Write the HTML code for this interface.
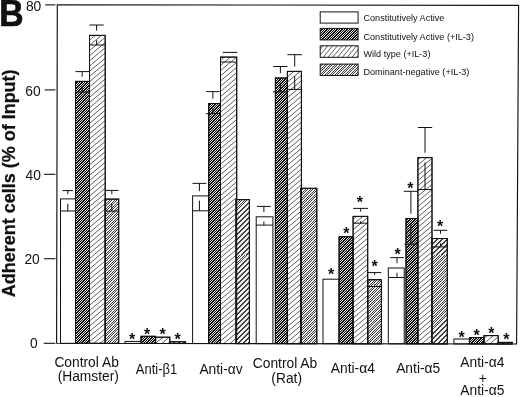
<!DOCTYPE html>
<html><head><meta charset="utf-8"><title>Figure B</title>
<style>
html,body{margin:0;padding:0;background:#fff;}
body{width:520px;height:397px;overflow:hidden;}
svg{display:block;will-change:transform;}
text{font-family:"Liberation Sans",Arial,Helvetica,sans-serif;fill:#111;}
.t{font-size:13.8px;}
.lg{font-size:9.1px;}
.st{font-size:16px;font-weight:bold;}
</style></head><body>
<svg width="520" height="397" viewBox="0 0 520 397">
<defs>
<clipPath id="l2"><rect x="320.2" y="28.4" width="37.9" height="11.5"/></clipPath><clipPath id="c2"><rect x="75.5" y="81.4" width="14.0" height="261.9"/><rect x="141.0" y="336.3" width="14.6" height="7.1"/><rect x="208.7" y="103.5" width="11.8" height="240.0"/><rect x="275.4" y="78.0" width="12.0" height="265.6"/><rect x="339.1" y="236.7" width="14.0" height="107.0"/><rect x="406.0" y="218.5" width="11.9" height="125.3"/><rect x="469.6" y="337.5" width="14.4" height="6.4"/></clipPath><clipPath id="l3"><rect x="320.2" y="45.8" width="37.9" height="11.5"/></clipPath><clipPath id="c3"><rect x="89.5" y="35.4" width="15.7" height="307.9"/><rect x="155.6" y="337.2" width="14.2" height="6.3"/><rect x="220.5" y="57.1" width="16.2" height="286.4"/><rect x="287.4" y="71.4" width="14.0" height="272.3"/><rect x="353.1" y="216.4" width="14.6" height="127.4"/><rect x="417.9" y="157.6" width="14.1" height="186.2"/><rect x="484.0" y="335.6" width="14.2" height="8.3"/></clipPath><clipPath id="l4"><rect x="320.2" y="64.1" width="37.9" height="11.4"/></clipPath><clipPath id="c4"><rect x="105.2" y="199.1" width="13.5" height="144.3"/><rect x="169.8" y="341.8" width="15.8" height="1.7"/><rect x="235.9" y="199.6" width="13.5" height="144.0"/><rect x="300.8" y="188.3" width="16.0" height="155.4"/><rect x="367.8" y="279.7" width="13.6" height="64.1"/><rect x="432.0" y="238.5" width="15.3" height="105.4"/><rect x="498.2" y="342.4" width="14.0" height="1.6"/></clipPath>
</defs>
<rect width="520" height="397" fill="#fff"/>

<rect x="60.5" y="198.9" width="15.0" height="144.4" fill="#fff" stroke="#111" stroke-width="1"/>
<rect x="75.5" y="81.4" width="14.0" height="261.9" fill="#e6e6e6" stroke="#111" stroke-width="1"/>
<rect x="89.5" y="35.4" width="15.7" height="307.9" fill="#fff" stroke="#111" stroke-width="1"/>
<rect x="105.2" y="199.1" width="13.5" height="144.3" fill="#f0f0f0" stroke="#111" stroke-width="1"/>
<rect x="125.0" y="341.4" width="16.0" height="2.0" fill="#fff" stroke="#111" stroke-width="1"/>
<rect x="141.0" y="336.3" width="14.6" height="7.1" fill="#e6e6e6" stroke="#111" stroke-width="1"/>
<rect x="155.6" y="337.2" width="14.2" height="6.3" fill="#fff" stroke="#111" stroke-width="1"/>
<rect x="169.8" y="341.8" width="15.8" height="1.7" fill="#f0f0f0" stroke="#111" stroke-width="1"/>
<rect x="192.6" y="195.9" width="16.1" height="147.6" fill="#fff" stroke="#111" stroke-width="1"/>
<rect x="208.7" y="103.5" width="11.8" height="240.0" fill="#e6e6e6" stroke="#111" stroke-width="1"/>
<rect x="220.5" y="57.1" width="16.2" height="286.4" fill="#fff" stroke="#111" stroke-width="1"/>
<rect x="235.9" y="199.6" width="13.5" height="144.0" fill="#f0f0f0" stroke="#111" stroke-width="1"/>
<rect x="256.2" y="216.8" width="16.7" height="126.8" fill="#fff" stroke="#111" stroke-width="1"/>
<rect x="275.4" y="78.0" width="12.0" height="265.6" fill="#e6e6e6" stroke="#111" stroke-width="1"/>
<rect x="287.4" y="71.4" width="14.0" height="272.3" fill="#fff" stroke="#111" stroke-width="1"/>
<rect x="300.8" y="188.3" width="16.0" height="155.4" fill="#f0f0f0" stroke="#111" stroke-width="1"/>
<rect x="323.0" y="279.2" width="16.1" height="64.5" fill="#fff" stroke="#111" stroke-width="1"/>
<rect x="339.1" y="236.7" width="14.0" height="107.0" fill="#e6e6e6" stroke="#111" stroke-width="1"/>
<rect x="353.1" y="216.4" width="14.6" height="127.4" fill="#fff" stroke="#111" stroke-width="1"/>
<rect x="367.8" y="279.7" width="13.6" height="64.1" fill="#f0f0f0" stroke="#111" stroke-width="1"/>
<rect x="388.3" y="268.0" width="15.9" height="75.8" fill="#fff" stroke="#111" stroke-width="1"/>
<rect x="406.0" y="218.5" width="11.9" height="125.3" fill="#e6e6e6" stroke="#111" stroke-width="1"/>
<rect x="417.9" y="157.6" width="14.1" height="186.2" fill="#fff" stroke="#111" stroke-width="1"/>
<rect x="432.0" y="238.5" width="15.3" height="105.4" fill="#f0f0f0" stroke="#111" stroke-width="1"/>
<rect x="453.9" y="339.0" width="15.4" height="4.9" fill="#fff" stroke="#111" stroke-width="1"/>
<rect x="469.6" y="337.5" width="14.4" height="6.4" fill="#e6e6e6" stroke="#111" stroke-width="1"/>
<rect x="484.0" y="335.6" width="14.2" height="8.3" fill="#fff" stroke="#111" stroke-width="1"/>
<rect x="498.2" y="342.4" width="14.0" height="1.6" fill="#f0f0f0" stroke="#111" stroke-width="1"/>
<rect x="320.2" y="28.4" width="37.9" height="11.5" fill="#e6e6e6"/>
<path clip-path="url(#l2)" d="M319 27.40l40 -40.0M319 29.90l40 -40.0M319 32.40l40 -40.0M319 34.90l40 -40.0M319 37.40l40 -40.0M319 39.90l40 -40.0M319 42.40l40 -40.0M319 44.90l40 -40.0M319 47.40l40 -40.0M319 49.90l40 -40.0M319 52.40l40 -40.0M319 54.90l40 -40.0M319 57.40l40 -40.0M319 59.90l40 -40.0M319 62.40l40 -40.0M319 64.90l40 -40.0M319 67.40l40 -40.0M319 69.90l40 -40.0M319 72.40l40 -40.0M319 74.90l40 -40.0M319 77.40l40 -40.0" stroke="#0c0c0c" stroke-width="1.2" fill="none" shape-rendering="crispEdges"/>
<path clip-path="url(#c2)" d="M57 5.00l463 -463.0M57 7.50l463 -463.0M57 10.00l463 -463.0M57 12.50l463 -463.0M57 15.00l463 -463.0M57 17.50l463 -463.0M57 20.00l463 -463.0M57 22.50l463 -463.0M57 25.00l463 -463.0M57 27.50l463 -463.0M57 30.00l463 -463.0M57 32.50l463 -463.0M57 35.00l463 -463.0M57 37.50l463 -463.0M57 40.00l463 -463.0M57 42.50l463 -463.0M57 45.00l463 -463.0M57 47.50l463 -463.0M57 50.00l463 -463.0M57 52.50l463 -463.0M57 55.00l463 -463.0M57 57.50l463 -463.0M57 60.00l463 -463.0M57 62.50l463 -463.0M57 65.00l463 -463.0M57 67.50l463 -463.0M57 70.00l463 -463.0M57 72.50l463 -463.0M57 75.00l463 -463.0M57 77.50l463 -463.0M57 80.00l463 -463.0M57 82.50l463 -463.0M57 85.00l463 -463.0M57 87.50l463 -463.0M57 90.00l463 -463.0M57 92.50l463 -463.0M57 95.00l463 -463.0M57 97.50l463 -463.0M57 100.00l463 -463.0M57 102.50l463 -463.0M57 105.00l463 -463.0M57 107.50l463 -463.0M57 110.00l463 -463.0M57 112.50l463 -463.0M57 115.00l463 -463.0M57 117.50l463 -463.0M57 120.00l463 -463.0M57 122.50l463 -463.0M57 125.00l463 -463.0M57 127.50l463 -463.0M57 130.00l463 -463.0M57 132.50l463 -463.0M57 135.00l463 -463.0M57 137.50l463 -463.0M57 140.00l463 -463.0M57 142.50l463 -463.0M57 145.00l463 -463.0M57 147.50l463 -463.0M57 150.00l463 -463.0M57 152.50l463 -463.0M57 155.00l463 -463.0M57 157.50l463 -463.0M57 160.00l463 -463.0M57 162.50l463 -463.0M57 165.00l463 -463.0M57 167.50l463 -463.0M57 170.00l463 -463.0M57 172.50l463 -463.0M57 175.00l463 -463.0M57 177.50l463 -463.0M57 180.00l463 -463.0M57 182.50l463 -463.0M57 185.00l463 -463.0M57 187.50l463 -463.0M57 190.00l463 -463.0M57 192.50l463 -463.0M57 195.00l463 -463.0M57 197.50l463 -463.0M57 200.00l463 -463.0M57 202.50l463 -463.0M57 205.00l463 -463.0M57 207.50l463 -463.0M57 210.00l463 -463.0M57 212.50l463 -463.0M57 215.00l463 -463.0M57 217.50l463 -463.0M57 220.00l463 -463.0M57 222.50l463 -463.0M57 225.00l463 -463.0M57 227.50l463 -463.0M57 230.00l463 -463.0M57 232.50l463 -463.0M57 235.00l463 -463.0M57 237.50l463 -463.0M57 240.00l463 -463.0M57 242.50l463 -463.0M57 245.00l463 -463.0M57 247.50l463 -463.0M57 250.00l463 -463.0M57 252.50l463 -463.0M57 255.00l463 -463.0M57 257.50l463 -463.0M57 260.00l463 -463.0M57 262.50l463 -463.0M57 265.00l463 -463.0M57 267.50l463 -463.0M57 270.00l463 -463.0M57 272.50l463 -463.0M57 275.00l463 -463.0M57 277.50l463 -463.0M57 280.00l463 -463.0M57 282.50l463 -463.0M57 285.00l463 -463.0M57 287.50l463 -463.0M57 290.00l463 -463.0M57 292.50l463 -463.0M57 295.00l463 -463.0M57 297.50l463 -463.0M57 300.00l463 -463.0M57 302.50l463 -463.0M57 305.00l463 -463.0M57 307.50l463 -463.0M57 310.00l463 -463.0M57 312.50l463 -463.0M57 315.00l463 -463.0M57 317.50l463 -463.0M57 320.00l463 -463.0M57 322.50l463 -463.0M57 325.00l463 -463.0M57 327.50l463 -463.0M57 330.00l463 -463.0M57 332.50l463 -463.0M57 335.00l463 -463.0M57 337.50l463 -463.0M57 340.00l463 -463.0M57 342.50l463 -463.0M57 345.00l463 -463.0M57 347.50l463 -463.0M57 350.00l463 -463.0M57 352.50l463 -463.0M57 355.00l463 -463.0M57 357.50l463 -463.0M57 360.00l463 -463.0M57 362.50l463 -463.0M57 365.00l463 -463.0M57 367.50l463 -463.0M57 370.00l463 -463.0M57 372.50l463 -463.0M57 375.00l463 -463.0M57 377.50l463 -463.0M57 380.00l463 -463.0M57 382.50l463 -463.0M57 385.00l463 -463.0M57 387.50l463 -463.0M57 390.00l463 -463.0M57 392.50l463 -463.0M57 395.00l463 -463.0M57 397.50l463 -463.0M57 400.00l463 -463.0M57 402.50l463 -463.0M57 405.00l463 -463.0M57 407.50l463 -463.0M57 410.00l463 -463.0M57 412.50l463 -463.0M57 415.00l463 -463.0M57 417.50l463 -463.0M57 420.00l463 -463.0M57 422.50l463 -463.0M57 425.00l463 -463.0M57 427.50l463 -463.0M57 430.00l463 -463.0M57 432.50l463 -463.0M57 435.00l463 -463.0M57 437.50l463 -463.0M57 440.00l463 -463.0M57 442.50l463 -463.0M57 445.00l463 -463.0M57 447.50l463 -463.0M57 450.00l463 -463.0M57 452.50l463 -463.0M57 455.00l463 -463.0M57 457.50l463 -463.0M57 460.00l463 -463.0M57 462.50l463 -463.0M57 465.00l463 -463.0M57 467.50l463 -463.0M57 470.00l463 -463.0M57 472.50l463 -463.0M57 475.00l463 -463.0M57 477.50l463 -463.0M57 480.00l463 -463.0M57 482.50l463 -463.0M57 485.00l463 -463.0M57 487.50l463 -463.0M57 490.00l463 -463.0M57 492.50l463 -463.0M57 495.00l463 -463.0M57 497.50l463 -463.0M57 500.00l463 -463.0M57 502.50l463 -463.0M57 505.00l463 -463.0M57 507.50l463 -463.0M57 510.00l463 -463.0M57 512.50l463 -463.0M57 515.00l463 -463.0M57 517.50l463 -463.0M57 520.00l463 -463.0M57 522.50l463 -463.0M57 525.00l463 -463.0M57 527.50l463 -463.0M57 530.00l463 -463.0M57 532.50l463 -463.0M57 535.00l463 -463.0M57 537.50l463 -463.0M57 540.00l463 -463.0M57 542.50l463 -463.0M57 545.00l463 -463.0M57 547.50l463 -463.0M57 550.00l463 -463.0M57 552.50l463 -463.0M57 555.00l463 -463.0M57 557.50l463 -463.0M57 560.00l463 -463.0M57 562.50l463 -463.0M57 565.00l463 -463.0M57 567.50l463 -463.0M57 570.00l463 -463.0M57 572.50l463 -463.0M57 575.00l463 -463.0M57 577.50l463 -463.0M57 580.00l463 -463.0M57 582.50l463 -463.0M57 585.00l463 -463.0M57 587.50l463 -463.0M57 590.00l463 -463.0M57 592.50l463 -463.0M57 595.00l463 -463.0M57 597.50l463 -463.0M57 600.00l463 -463.0M57 602.50l463 -463.0M57 605.00l463 -463.0M57 607.50l463 -463.0M57 610.00l463 -463.0M57 612.50l463 -463.0M57 615.00l463 -463.0M57 617.50l463 -463.0M57 620.00l463 -463.0M57 622.50l463 -463.0M57 625.00l463 -463.0M57 627.50l463 -463.0M57 630.00l463 -463.0M57 632.50l463 -463.0M57 635.00l463 -463.0M57 637.50l463 -463.0M57 640.00l463 -463.0M57 642.50l463 -463.0M57 645.00l463 -463.0M57 647.50l463 -463.0M57 650.00l463 -463.0M57 652.50l463 -463.0M57 655.00l463 -463.0M57 657.50l463 -463.0M57 660.00l463 -463.0M57 662.50l463 -463.0M57 665.00l463 -463.0M57 667.50l463 -463.0M57 670.00l463 -463.0M57 672.50l463 -463.0M57 675.00l463 -463.0M57 677.50l463 -463.0M57 680.00l463 -463.0M57 682.50l463 -463.0M57 685.00l463 -463.0M57 687.50l463 -463.0M57 690.00l463 -463.0M57 692.50l463 -463.0M57 695.00l463 -463.0M57 697.50l463 -463.0M57 700.00l463 -463.0M57 702.50l463 -463.0M57 705.00l463 -463.0M57 707.50l463 -463.0M57 710.00l463 -463.0M57 712.50l463 -463.0M57 715.00l463 -463.0M57 717.50l463 -463.0M57 720.00l463 -463.0M57 722.50l463 -463.0M57 725.00l463 -463.0M57 727.50l463 -463.0M57 730.00l463 -463.0M57 732.50l463 -463.0M57 735.00l463 -463.0M57 737.50l463 -463.0M57 740.00l463 -463.0M57 742.50l463 -463.0M57 745.00l463 -463.0M57 747.50l463 -463.0M57 750.00l463 -463.0M57 752.50l463 -463.0M57 755.00l463 -463.0M57 757.50l463 -463.0M57 760.00l463 -463.0M57 762.50l463 -463.0M57 765.00l463 -463.0M57 767.50l463 -463.0M57 770.00l463 -463.0M57 772.50l463 -463.0M57 775.00l463 -463.0M57 777.50l463 -463.0M57 780.00l463 -463.0M57 782.50l463 -463.0M57 785.00l463 -463.0M57 787.50l463 -463.0M57 790.00l463 -463.0M57 792.50l463 -463.0M57 795.00l463 -463.0M57 797.50l463 -463.0M57 800.00l463 -463.0M57 802.50l463 -463.0M57 805.00l463 -463.0" stroke="#0c0c0c" stroke-width="1.2" fill="none" shape-rendering="crispEdges"/>
<path clip-path="url(#l3)" d="M319 44.80l40 -48.7M319 50.65l40 -48.7M319 56.50l40 -48.7M319 62.35l40 -48.7M319 68.20l40 -48.7M319 74.05l40 -48.7M319 79.90l40 -48.7M319 85.75l40 -48.7M319 91.60l40 -48.7M319 97.45l40 -48.7M319 103.30l40 -48.7" stroke="#2a2a2a" stroke-width="0.75" fill="none"/>
<path clip-path="url(#c3)" d="M57 5.00l463 -388.5M57 10.20l463 -388.5M57 15.40l463 -388.5M57 20.60l463 -388.5M57 25.80l463 -388.5M57 31.00l463 -388.5M57 36.20l463 -388.5M57 41.40l463 -388.5M57 46.60l463 -388.5M57 51.80l463 -388.5M57 57.00l463 -388.5M57 62.20l463 -388.5M57 67.40l463 -388.5M57 72.60l463 -388.5M57 77.80l463 -388.5M57 83.00l463 -388.5M57 88.20l463 -388.5M57 93.40l463 -388.5M57 98.60l463 -388.5M57 103.80l463 -388.5M57 109.00l463 -388.5M57 114.20l463 -388.5M57 119.40l463 -388.5M57 124.60l463 -388.5M57 129.80l463 -388.5M57 135.00l463 -388.5M57 140.20l463 -388.5M57 145.40l463 -388.5M57 150.60l463 -388.5M57 155.80l463 -388.5M57 161.00l463 -388.5M57 166.20l463 -388.5M57 171.40l463 -388.5M57 176.60l463 -388.5M57 181.80l463 -388.5M57 187.00l463 -388.5M57 192.20l463 -388.5M57 197.40l463 -388.5M57 202.60l463 -388.5M57 207.80l463 -388.5M57 213.00l463 -388.5M57 218.20l463 -388.5M57 223.40l463 -388.5M57 228.60l463 -388.5M57 233.80l463 -388.5M57 239.00l463 -388.5M57 244.20l463 -388.5M57 249.40l463 -388.5M57 254.60l463 -388.5M57 259.80l463 -388.5M57 265.00l463 -388.5M57 270.20l463 -388.5M57 275.40l463 -388.5M57 280.60l463 -388.5M57 285.80l463 -388.5M57 291.00l463 -388.5M57 296.20l463 -388.5M57 301.40l463 -388.5M57 306.60l463 -388.5M57 311.80l463 -388.5M57 317.00l463 -388.5M57 322.20l463 -388.5M57 327.40l463 -388.5M57 332.60l463 -388.5M57 337.80l463 -388.5M57 343.00l463 -388.5M57 348.20l463 -388.5M57 353.40l463 -388.5M57 358.60l463 -388.5M57 363.80l463 -388.5M57 369.00l463 -388.5M57 374.20l463 -388.5M57 379.40l463 -388.5M57 384.60l463 -388.5M57 389.80l463 -388.5M57 395.00l463 -388.5M57 400.20l463 -388.5M57 405.40l463 -388.5M57 410.60l463 -388.5M57 415.80l463 -388.5M57 421.00l463 -388.5M57 426.20l463 -388.5M57 431.40l463 -388.5M57 436.60l463 -388.5M57 441.80l463 -388.5M57 447.00l463 -388.5M57 452.20l463 -388.5M57 457.40l463 -388.5M57 462.60l463 -388.5M57 467.80l463 -388.5M57 473.00l463 -388.5M57 478.20l463 -388.5M57 483.40l463 -388.5M57 488.60l463 -388.5M57 493.80l463 -388.5M57 499.00l463 -388.5M57 504.20l463 -388.5M57 509.40l463 -388.5M57 514.60l463 -388.5M57 519.80l463 -388.5M57 525.00l463 -388.5M57 530.20l463 -388.5M57 535.40l463 -388.5M57 540.60l463 -388.5M57 545.80l463 -388.5M57 551.00l463 -388.5M57 556.20l463 -388.5M57 561.40l463 -388.5M57 566.60l463 -388.5M57 571.80l463 -388.5M57 577.00l463 -388.5M57 582.20l463 -388.5M57 587.40l463 -388.5M57 592.60l463 -388.5M57 597.80l463 -388.5M57 603.00l463 -388.5M57 608.20l463 -388.5M57 613.40l463 -388.5M57 618.60l463 -388.5M57 623.80l463 -388.5M57 629.00l463 -388.5M57 634.20l463 -388.5M57 639.40l463 -388.5M57 644.60l463 -388.5M57 649.80l463 -388.5M57 655.00l463 -388.5M57 660.20l463 -388.5M57 665.40l463 -388.5M57 670.60l463 -388.5M57 675.80l463 -388.5M57 681.00l463 -388.5M57 686.20l463 -388.5M57 691.40l463 -388.5M57 696.60l463 -388.5M57 701.80l463 -388.5M57 707.00l463 -388.5M57 712.20l463 -388.5M57 717.40l463 -388.5M57 722.60l463 -388.5M57 727.80l463 -388.5" stroke="#2a2a2a" stroke-width="0.75" fill="none"/>
<rect x="320.2" y="64.1" width="37.9" height="11.4" fill="#f0f0f0"/>
<path clip-path="url(#l4)" d="M319 63.10l40 -40.0M319 65.60l40 -40.0M319 68.10l40 -40.0M319 70.60l40 -40.0M319 73.10l40 -40.0M319 75.60l40 -40.0M319 78.10l40 -40.0M319 80.60l40 -40.0M319 83.10l40 -40.0M319 85.60l40 -40.0M319 88.10l40 -40.0M319 90.60l40 -40.0M319 93.10l40 -40.0M319 95.60l40 -40.0M319 98.10l40 -40.0M319 100.60l40 -40.0M319 103.10l40 -40.0M319 105.60l40 -40.0M319 108.10l40 -40.0M319 110.60l40 -40.0M319 113.10l40 -40.0" stroke="#111" stroke-width="0.8" fill="none" shape-rendering="crispEdges"/>
<path clip-path="url(#c4)" d="M57 5.00l463 -463.0M57 7.50l463 -463.0M57 10.00l463 -463.0M57 12.50l463 -463.0M57 15.00l463 -463.0M57 17.50l463 -463.0M57 20.00l463 -463.0M57 22.50l463 -463.0M57 25.00l463 -463.0M57 27.50l463 -463.0M57 30.00l463 -463.0M57 32.50l463 -463.0M57 35.00l463 -463.0M57 37.50l463 -463.0M57 40.00l463 -463.0M57 42.50l463 -463.0M57 45.00l463 -463.0M57 47.50l463 -463.0M57 50.00l463 -463.0M57 52.50l463 -463.0M57 55.00l463 -463.0M57 57.50l463 -463.0M57 60.00l463 -463.0M57 62.50l463 -463.0M57 65.00l463 -463.0M57 67.50l463 -463.0M57 70.00l463 -463.0M57 72.50l463 -463.0M57 75.00l463 -463.0M57 77.50l463 -463.0M57 80.00l463 -463.0M57 82.50l463 -463.0M57 85.00l463 -463.0M57 87.50l463 -463.0M57 90.00l463 -463.0M57 92.50l463 -463.0M57 95.00l463 -463.0M57 97.50l463 -463.0M57 100.00l463 -463.0M57 102.50l463 -463.0M57 105.00l463 -463.0M57 107.50l463 -463.0M57 110.00l463 -463.0M57 112.50l463 -463.0M57 115.00l463 -463.0M57 117.50l463 -463.0M57 120.00l463 -463.0M57 122.50l463 -463.0M57 125.00l463 -463.0M57 127.50l463 -463.0M57 130.00l463 -463.0M57 132.50l463 -463.0M57 135.00l463 -463.0M57 137.50l463 -463.0M57 140.00l463 -463.0M57 142.50l463 -463.0M57 145.00l463 -463.0M57 147.50l463 -463.0M57 150.00l463 -463.0M57 152.50l463 -463.0M57 155.00l463 -463.0M57 157.50l463 -463.0M57 160.00l463 -463.0M57 162.50l463 -463.0M57 165.00l463 -463.0M57 167.50l463 -463.0M57 170.00l463 -463.0M57 172.50l463 -463.0M57 175.00l463 -463.0M57 177.50l463 -463.0M57 180.00l463 -463.0M57 182.50l463 -463.0M57 185.00l463 -463.0M57 187.50l463 -463.0M57 190.00l463 -463.0M57 192.50l463 -463.0M57 195.00l463 -463.0M57 197.50l463 -463.0M57 200.00l463 -463.0M57 202.50l463 -463.0M57 205.00l463 -463.0M57 207.50l463 -463.0M57 210.00l463 -463.0M57 212.50l463 -463.0M57 215.00l463 -463.0M57 217.50l463 -463.0M57 220.00l463 -463.0M57 222.50l463 -463.0M57 225.00l463 -463.0M57 227.50l463 -463.0M57 230.00l463 -463.0M57 232.50l463 -463.0M57 235.00l463 -463.0M57 237.50l463 -463.0M57 240.00l463 -463.0M57 242.50l463 -463.0M57 245.00l463 -463.0M57 247.50l463 -463.0M57 250.00l463 -463.0M57 252.50l463 -463.0M57 255.00l463 -463.0M57 257.50l463 -463.0M57 260.00l463 -463.0M57 262.50l463 -463.0M57 265.00l463 -463.0M57 267.50l463 -463.0M57 270.00l463 -463.0M57 272.50l463 -463.0M57 275.00l463 -463.0M57 277.50l463 -463.0M57 280.00l463 -463.0M57 282.50l463 -463.0M57 285.00l463 -463.0M57 287.50l463 -463.0M57 290.00l463 -463.0M57 292.50l463 -463.0M57 295.00l463 -463.0M57 297.50l463 -463.0M57 300.00l463 -463.0M57 302.50l463 -463.0M57 305.00l463 -463.0M57 307.50l463 -463.0M57 310.00l463 -463.0M57 312.50l463 -463.0M57 315.00l463 -463.0M57 317.50l463 -463.0M57 320.00l463 -463.0M57 322.50l463 -463.0M57 325.00l463 -463.0M57 327.50l463 -463.0M57 330.00l463 -463.0M57 332.50l463 -463.0M57 335.00l463 -463.0M57 337.50l463 -463.0M57 340.00l463 -463.0M57 342.50l463 -463.0M57 345.00l463 -463.0M57 347.50l463 -463.0M57 350.00l463 -463.0M57 352.50l463 -463.0M57 355.00l463 -463.0M57 357.50l463 -463.0M57 360.00l463 -463.0M57 362.50l463 -463.0M57 365.00l463 -463.0M57 367.50l463 -463.0M57 370.00l463 -463.0M57 372.50l463 -463.0M57 375.00l463 -463.0M57 377.50l463 -463.0M57 380.00l463 -463.0M57 382.50l463 -463.0M57 385.00l463 -463.0M57 387.50l463 -463.0M57 390.00l463 -463.0M57 392.50l463 -463.0M57 395.00l463 -463.0M57 397.50l463 -463.0M57 400.00l463 -463.0M57 402.50l463 -463.0M57 405.00l463 -463.0M57 407.50l463 -463.0M57 410.00l463 -463.0M57 412.50l463 -463.0M57 415.00l463 -463.0M57 417.50l463 -463.0M57 420.00l463 -463.0M57 422.50l463 -463.0M57 425.00l463 -463.0M57 427.50l463 -463.0M57 430.00l463 -463.0M57 432.50l463 -463.0M57 435.00l463 -463.0M57 437.50l463 -463.0M57 440.00l463 -463.0M57 442.50l463 -463.0M57 445.00l463 -463.0M57 447.50l463 -463.0M57 450.00l463 -463.0M57 452.50l463 -463.0M57 455.00l463 -463.0M57 457.50l463 -463.0M57 460.00l463 -463.0M57 462.50l463 -463.0M57 465.00l463 -463.0M57 467.50l463 -463.0M57 470.00l463 -463.0M57 472.50l463 -463.0M57 475.00l463 -463.0M57 477.50l463 -463.0M57 480.00l463 -463.0M57 482.50l463 -463.0M57 485.00l463 -463.0M57 487.50l463 -463.0M57 490.00l463 -463.0M57 492.50l463 -463.0M57 495.00l463 -463.0M57 497.50l463 -463.0M57 500.00l463 -463.0M57 502.50l463 -463.0M57 505.00l463 -463.0M57 507.50l463 -463.0M57 510.00l463 -463.0M57 512.50l463 -463.0M57 515.00l463 -463.0M57 517.50l463 -463.0M57 520.00l463 -463.0M57 522.50l463 -463.0M57 525.00l463 -463.0M57 527.50l463 -463.0M57 530.00l463 -463.0M57 532.50l463 -463.0M57 535.00l463 -463.0M57 537.50l463 -463.0M57 540.00l463 -463.0M57 542.50l463 -463.0M57 545.00l463 -463.0M57 547.50l463 -463.0M57 550.00l463 -463.0M57 552.50l463 -463.0M57 555.00l463 -463.0M57 557.50l463 -463.0M57 560.00l463 -463.0M57 562.50l463 -463.0M57 565.00l463 -463.0M57 567.50l463 -463.0M57 570.00l463 -463.0M57 572.50l463 -463.0M57 575.00l463 -463.0M57 577.50l463 -463.0M57 580.00l463 -463.0M57 582.50l463 -463.0M57 585.00l463 -463.0M57 587.50l463 -463.0M57 590.00l463 -463.0M57 592.50l463 -463.0M57 595.00l463 -463.0M57 597.50l463 -463.0M57 600.00l463 -463.0M57 602.50l463 -463.0M57 605.00l463 -463.0M57 607.50l463 -463.0M57 610.00l463 -463.0M57 612.50l463 -463.0M57 615.00l463 -463.0M57 617.50l463 -463.0M57 620.00l463 -463.0M57 622.50l463 -463.0M57 625.00l463 -463.0M57 627.50l463 -463.0M57 630.00l463 -463.0M57 632.50l463 -463.0M57 635.00l463 -463.0M57 637.50l463 -463.0M57 640.00l463 -463.0M57 642.50l463 -463.0M57 645.00l463 -463.0M57 647.50l463 -463.0M57 650.00l463 -463.0M57 652.50l463 -463.0M57 655.00l463 -463.0M57 657.50l463 -463.0M57 660.00l463 -463.0M57 662.50l463 -463.0M57 665.00l463 -463.0M57 667.50l463 -463.0M57 670.00l463 -463.0M57 672.50l463 -463.0M57 675.00l463 -463.0M57 677.50l463 -463.0M57 680.00l463 -463.0M57 682.50l463 -463.0M57 685.00l463 -463.0M57 687.50l463 -463.0M57 690.00l463 -463.0M57 692.50l463 -463.0M57 695.00l463 -463.0M57 697.50l463 -463.0M57 700.00l463 -463.0M57 702.50l463 -463.0M57 705.00l463 -463.0M57 707.50l463 -463.0M57 710.00l463 -463.0M57 712.50l463 -463.0M57 715.00l463 -463.0M57 717.50l463 -463.0M57 720.00l463 -463.0M57 722.50l463 -463.0M57 725.00l463 -463.0M57 727.50l463 -463.0M57 730.00l463 -463.0M57 732.50l463 -463.0M57 735.00l463 -463.0M57 737.50l463 -463.0M57 740.00l463 -463.0M57 742.50l463 -463.0M57 745.00l463 -463.0M57 747.50l463 -463.0M57 750.00l463 -463.0M57 752.50l463 -463.0M57 755.00l463 -463.0M57 757.50l463 -463.0M57 760.00l463 -463.0M57 762.50l463 -463.0M57 765.00l463 -463.0M57 767.50l463 -463.0M57 770.00l463 -463.0M57 772.50l463 -463.0M57 775.00l463 -463.0M57 777.50l463 -463.0M57 780.00l463 -463.0M57 782.50l463 -463.0M57 785.00l463 -463.0M57 787.50l463 -463.0M57 790.00l463 -463.0M57 792.50l463 -463.0M57 795.00l463 -463.0M57 797.50l463 -463.0M57 800.00l463 -463.0M57 802.50l463 -463.0M57 805.00l463 -463.0" stroke="#111" stroke-width="0.8" fill="none" shape-rendering="crispEdges"/>
<rect x="75.5" y="81.4" width="14.0" height="261.9" fill="none" stroke="#111" stroke-width="1"/>
<rect x="89.5" y="35.4" width="15.7" height="307.9" fill="none" stroke="#111" stroke-width="1"/>
<rect x="105.2" y="199.1" width="13.5" height="144.3" fill="none" stroke="#111" stroke-width="1"/>
<rect x="141.0" y="336.3" width="14.6" height="7.1" fill="none" stroke="#111" stroke-width="1"/>
<rect x="155.6" y="337.2" width="14.2" height="6.3" fill="none" stroke="#111" stroke-width="1"/>
<rect x="169.8" y="341.8" width="15.8" height="1.7" fill="none" stroke="#111" stroke-width="1"/>
<rect x="208.7" y="103.5" width="11.8" height="240.0" fill="none" stroke="#111" stroke-width="1"/>
<rect x="220.5" y="57.1" width="16.2" height="286.4" fill="none" stroke="#111" stroke-width="1"/>
<rect x="235.9" y="199.6" width="13.5" height="144.0" fill="none" stroke="#111" stroke-width="1"/>
<rect x="275.4" y="78.0" width="12.0" height="265.6" fill="none" stroke="#111" stroke-width="1"/>
<rect x="287.4" y="71.4" width="14.0" height="272.3" fill="none" stroke="#111" stroke-width="1"/>
<rect x="300.8" y="188.3" width="16.0" height="155.4" fill="none" stroke="#111" stroke-width="1"/>
<rect x="339.1" y="236.7" width="14.0" height="107.0" fill="none" stroke="#111" stroke-width="1"/>
<rect x="353.1" y="216.4" width="14.6" height="127.4" fill="none" stroke="#111" stroke-width="1"/>
<rect x="367.8" y="279.7" width="13.6" height="64.1" fill="none" stroke="#111" stroke-width="1"/>
<rect x="406.0" y="218.5" width="11.9" height="125.3" fill="none" stroke="#111" stroke-width="1"/>
<rect x="417.9" y="157.6" width="14.1" height="186.2" fill="none" stroke="#111" stroke-width="1"/>
<rect x="432.0" y="238.5" width="15.3" height="105.4" fill="none" stroke="#111" stroke-width="1"/>
<rect x="469.6" y="337.5" width="14.4" height="6.4" fill="none" stroke="#111" stroke-width="1"/>
<rect x="484.0" y="335.6" width="14.2" height="8.3" fill="none" stroke="#111" stroke-width="1"/>
<rect x="498.2" y="342.4" width="14.0" height="1.6" fill="none" stroke="#111" stroke-width="1"/>
<path d="M62.5 190.6H73.0M67.8 190.6V194.1" stroke="#111" stroke-width="1" fill="none"/>
<path d="M60.5 211.0H75.5M67.8 211.0V203.7" stroke="#111" stroke-width="1" fill="none"/>
<path d="M75.4 71.6H89.0M82.2 71.6V76.6" stroke="#111" stroke-width="1" fill="none"/>
<path d="M75.5 92.1H89.5M82.2 92.1V86.2" stroke="#111" stroke-width="1" fill="none"/>
<path d="M89.5 25.0H103.7M96.6 25.0V30.6" stroke="#111" stroke-width="1" fill="none"/>
<path d="M89.5 45.0H105.2M96.6 45.0V40.2" stroke="#111" stroke-width="1" fill="none"/>
<path d="M105.0 190.4H118.7M111.8 190.4V194.3" stroke="#111" stroke-width="1" fill="none"/>
<path d="M105.2 211.1H118.7M111.8 211.1V203.9" stroke="#111" stroke-width="1" fill="none"/>
<path d="M192.5 183.4H206.3M199.4 183.4V191.1" stroke="#111" stroke-width="1" fill="none"/>
<path d="M192.6 210.8H208.7M199.4 210.8V200.7" stroke="#111" stroke-width="1" fill="none"/>
<path d="M206.2 91.6H219.6M212.9 91.6V98.7" stroke="#111" stroke-width="1" fill="none"/>
<path d="M205.9 113.6H220.5M212.9 113.6V108.3" stroke="#111" stroke-width="1" fill="none"/>
<path d="M222.8 52.4H237.4M230.1 52.4V52.4" stroke="#111" stroke-width="1" fill="none"/>
<path d="M220.5 62.0H236.7M230.1 62.0V61.9" stroke="#111" stroke-width="1" fill="none"/>
<path d="M256.9 206.4H270.8M263.9 206.4V212.0" stroke="#111" stroke-width="1" fill="none"/>
<path d="M256.2 225.1H272.9M263.9 225.1V221.6" stroke="#111" stroke-width="1" fill="none"/>
<path d="M273.3 66.5H287.4M280.4 66.5V73.2" stroke="#111" stroke-width="1" fill="none"/>
<path d="M272.9 91.9H287.4M280.4 91.9V82.8" stroke="#111" stroke-width="1" fill="none"/>
<path d="M287.4 54.7H302.0M294.7 54.7V66.6" stroke="#111" stroke-width="1" fill="none"/>
<path d="M287.4 89.4H301.4M294.7 89.4V76.2" stroke="#111" stroke-width="1" fill="none"/>
<path d="M353.2 208.4H368.0M360.6 208.4V211.6" stroke="#111" stroke-width="1" fill="none"/>
<path d="M353.1 223.2H367.7M360.6 223.2V221.2" stroke="#111" stroke-width="1" fill="none"/>
<path d="M367.8 272.6H381.4M374.6 272.6V274.9" stroke="#111" stroke-width="1" fill="none"/>
<path d="M367.8 286.5H381.4M374.6 286.5V284.5" stroke="#111" stroke-width="1" fill="none"/>
<path d="M390.2 257.6H403.8M397.0 257.6V263.2" stroke="#111" stroke-width="1" fill="none"/>
<path d="M388.3 277.5H404.2M397.0 277.5V272.8" stroke="#111" stroke-width="1" fill="none"/>
<path d="M403.8 191.3H417.9M410.9 191.3V213.7" stroke="#111" stroke-width="1" fill="none"/>
<path d="M404.5 244.2H417.9M410.9 244.2V223.3" stroke="#111" stroke-width="1" fill="none"/>
<path d="M417.9 127.5H432.2M425.0 127.5V152.8" stroke="#111" stroke-width="1" fill="none"/>
<path d="M417.9 189.5H432.0M425.0 189.5V162.4" stroke="#111" stroke-width="1" fill="none"/>
<path d="M433.7 230.3H447.3M440.5 230.3V233.7" stroke="#111" stroke-width="1" fill="none"/>
<path d="M432.0 246.9H447.3M440.5 246.9V243.3" stroke="#111" stroke-width="1" fill="none"/>
<path d="M56.6 343.3L57.3 4.75L518.6 5.4L516.6 344L56.6 343.3Z" stroke="#111" stroke-width="1.15" fill="none" stroke-linejoin="miter"/>
<path d="M45.2 4.85H55.4" stroke="#111" stroke-width="1.1"/>
<path d="M44.7 89.9H55.4" stroke="#111" stroke-width="1.1"/>
<path d="M44.2 174.3H55.4" stroke="#111" stroke-width="1.1"/>
<path d="M44 258.7H55.4" stroke="#111" stroke-width="1.1"/>
<path d="M43.7 343.3H55.4" stroke="#111" stroke-width="1.1"/>
<text class="t" x="41.3" y="10.5" text-anchor="end">80</text>
<text class="t" x="40.6" y="95.8" text-anchor="end">60</text>
<text class="t" x="40.9" y="179.6" text-anchor="end">40</text>
<text class="t" x="39.8" y="263.8" text-anchor="end">20</text>
<text class="t" x="37.6" y="348.0" text-anchor="end">0</text>
<text x="-0.7" y="26.3" style="font-size:36px;font-weight:bold" stroke="#111" stroke-width="0.7" textLength="24.4" lengthAdjust="spacingAndGlyphs">B</text>
<text transform="translate(15.1,297.2) rotate(-90)" style="font-size:17.5px;font-weight:bold" stroke="#111" stroke-width="0.25" textLength="227.8" lengthAdjust="spacingAndGlyphs">Adherent cells (% of Input)</text>
<text class="t" x="86.6" y="366.9" text-anchor="middle">Control Ab</text>
<text class="t" x="88.3" y="381.2" text-anchor="middle">(Hamster)</text>
<text class="t" transform="translate(156.5,374.2) scale(0.942,1)" text-anchor="middle">Anti-β1</text>
<text class="t" x="221" y="374.3" text-anchor="middle">Anti-αv</text>
<text class="t" x="285" y="367.6" text-anchor="middle">Control Ab</text>
<text class="t" x="286.7" y="382.6" text-anchor="middle">(Rat)</text>
<text class="t" x="352.8" y="372.8" text-anchor="middle">Anti-α4</text>
<text class="t" x="418.2" y="372.8" text-anchor="middle">Anti-α5</text>
<text class="t" x="482.3" y="366.5" text-anchor="middle">Anti-α4</text>
<text class="t" x="482.8" y="383.3" text-anchor="middle">+</text>
<text class="t" x="482.3" y="395.4" text-anchor="middle">Anti-α5</text>
<rect x="320.2" y="11.9" width="37.9" height="11.2" fill="none" stroke="#111" stroke-width="1"/>
<rect x="320.2" y="28.4" width="37.9" height="11.5" fill="none" stroke="#111" stroke-width="1"/>
<rect x="320.2" y="45.8" width="37.9" height="11.5" fill="none" stroke="#111" stroke-width="1"/>
<rect x="320.2" y="64.1" width="37.9" height="11.4" fill="none" stroke="#111" stroke-width="1"/>
<text class="lg" x="363.5" y="21.4">Constitutively Active</text>
<text class="lg" x="363.5" y="39.9">Constitutively Active (+IL-3)</text>
<text class="lg" x="363.5" y="56.6">Wild type (+IL-3)</text>
<text class="lg" x="363.5" y="75">Dominant-negative (+IL-3)</text>
<text class="st" x="132.1" y="345.2" text-anchor="middle">*</text>
<text class="st" x="147.2" y="340.2" text-anchor="middle">*</text>
<text class="st" x="162.6" y="340.2" text-anchor="middle">*</text>
<text class="st" x="177.5" y="345.4" text-anchor="middle">*</text>
<text class="st" x="331.2" y="280.3" text-anchor="middle">*</text>
<text class="st" x="346.3" y="238.6" text-anchor="middle">*</text>
<text class="st" x="359.9" y="208.4" text-anchor="middle">*</text>
<text class="st" x="374.6" y="272.2" text-anchor="middle">*</text>
<text class="st" x="397.5" y="259.6" text-anchor="middle">*</text>
<text class="st" x="410.4" y="193.5" text-anchor="middle">*</text>
<text class="st" x="440.1" y="232.0" text-anchor="middle">*</text>
<text class="st" x="461.5" y="343.2" text-anchor="middle">*</text>
<text class="st" x="476.7" y="340.9" text-anchor="middle">*</text>
<text class="st" x="491.3" y="338.5" text-anchor="middle">*</text>
<text class="st" x="506.3" y="345.2" text-anchor="middle">*</text>
</svg></body></html>
